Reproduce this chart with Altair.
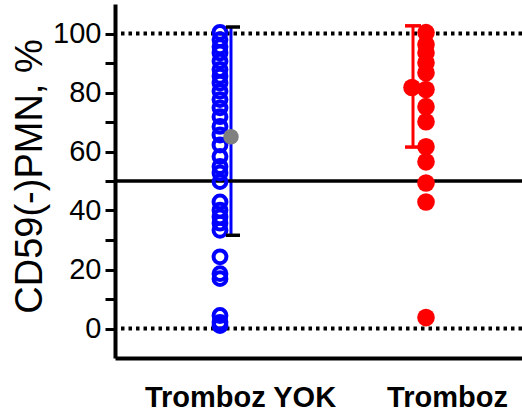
import altair as alt
import pandas as pd

# Groups on the x axis
categories = ["Tromboz YOK", "Tromboz"]

# CD59(-) PMN percentages per patient
tromboz_yok = [100.4, 97.9, 95.5, 93.4, 90.6, 87.8, 85.5, 83.2, 80.4, 77.6,
               74.8, 71.8, 68.5, 65.6, 62.2, 58.3, 54.9, 52.7, 49.8, 42.9,
               40.1, 37.8, 35.7, 33.3, 24.3, 18.6, 16.9, 4.4, 2.1, 1.0]
tromboz = [100.3, 96.3, 93.5, 90.1, 86.7, 81.0, 75.2, 70.1, 61.6, 56.5,
           49.3, 42.9, 3.7]

# Group summary: centre point and error-bar limits
group_mean = [65.0, 81.7]
bar_low = [31.6, 61.5]
bar_high = [102.2, 102.6]

# Horizontal reference lines
dotted_levels = [0, 100]
cutoff_level = [50]

y_ticks = list(range(0, 101, 10))

points = pd.DataFrame({
    "group": [categories[0]] * len(tromboz_yok) + [categories[1]] * len(tromboz),
    "value": tromboz_yok + tromboz,
})
summary = pd.DataFrame({
    "group": categories, "mean": group_mean, "low": bar_low, "high": bar_high,
})
dotted = pd.DataFrame({"level": dotted_levels})
cutoff = pd.DataFrame({"level": cutoff_level})

FONT = "Liberation Sans"

x_scale = alt.Scale(type="point", domain=categories, padding=0.483, align=0.625)
y_scale = alt.Scale(domain=[-10, 110], nice=False, zero=False)

x_axis = alt.Axis(
    title=None, ticks=False, labelAngle=0, labelFont=FONT, labelFontSize=29,
    labelFontWeight="bold", labelColor="black", labelPadding=25, labelLimit=0,
    domainColor="black", domainWidth=4, grid=False,
)
y_axis = alt.Axis(
    values=y_ticks, labelExpr="datum.value % 20 === 0 ? datum.label : ''",
    tickSize=10, tickWidth=3, tickColor="black", domainColor="black",
    domainWidth=4, labelFont=FONT, labelFontSize=29, labelColor="black",
    labelPadding=4, grid=False,
    title="CD59(-)PMN, %", titleFont=FONT, titleFontSize=38,
    titleFontWeight="normal", titleColor="black", titleX=-85, titleY=172,
    titleAlign="center", titleBaseline="middle",
)


def X():
    return alt.X("group:N", scale=x_scale, axis=x_axis)


def Y(field):
    return alt.Y(field, scale=y_scale, axis=y_axis)


def only(group_index):
    return alt.datum.group == categories[group_index]


dotted_rules = alt.Chart(dotted).mark_rule(
    color="black", strokeWidth=4, strokeDash=[3.5, 4]
).encode(y=Y("level:Q"))

blue_bar = alt.Chart(summary).transform_filter(only(0)).mark_rule(
    color="#0000FF", strokeWidth=3, xOffset=-9
).encode(x=X(), y=Y("low:Q"), y2="high:Q")

cutoff_rule = alt.Chart(cutoff).mark_rule(color="black", strokeWidth=3.5).encode(
    y=Y("level:Q")
)

blue_points = alt.Chart(points).transform_filter(only(0)).mark_point(
    shape="circle", filled=False, color="#0000FF", strokeWidth=4, size=165,
    opacity=1, xOffset=-20,
).encode(x=X(), y=Y("value:Q"))

blue_mean = alt.Chart(summary).transform_filter(only(0)).mark_circle(
    color="#808080", size=240, opacity=1, xOffset=-9
).encode(x=X(), y=Y("mean:Q"))

blue_caps = alt.Chart(summary).transform_fold(
    ["low", "high"], as_=["end", "pos"]
).transform_filter(only(0)).mark_tick(
    orient="horizontal", color="black", size=14, thickness=3.5, opacity=1, xOffset=-7
).encode(x=X(), y=Y("pos:Q"))

red_bar = alt.Chart(summary).transform_filter(only(1)).mark_rule(
    color="#FF0000", strokeWidth=3, xOffset=-34
).encode(x=X(), y=Y("low:Q"), y2="high:Q")

red_caps = alt.Chart(summary).transform_fold(
    ["low", "high"], as_=["end", "pos"]
).transform_filter(only(1)).mark_tick(
    orient="horizontal", color="#FF0000", size=16, thickness=3.5, opacity=1, xOffset=-34
).encode(x=X(), y=Y("pos:Q"))

red_points = alt.Chart(points).transform_filter(only(1)).mark_circle(
    color="#FF0000", size=310, opacity=1, xOffset=-21
).encode(x=X(), y=Y("value:Q"))

red_mean = alt.Chart(summary).transform_filter(only(1)).mark_circle(
    color="#FF0000", size=310, opacity=1, xOffset=-35
).encode(x=X(), y=Y("mean:Q"))

chart = alt.layer(
    blue_bar, dotted_rules, cutoff_rule, blue_points, blue_mean,
    blue_caps, red_bar, red_caps, red_points, red_mean,
).properties(
    width=407, height=354,
    autosize=alt.AutoSizeParams(type="none"),
    padding={"left": 115, "top": 4, "right": 0, "bottom": 56},
).configure_view(stroke=None)

chart.save("out.html", embed_options={"renderer": "svg", "actions": False})
